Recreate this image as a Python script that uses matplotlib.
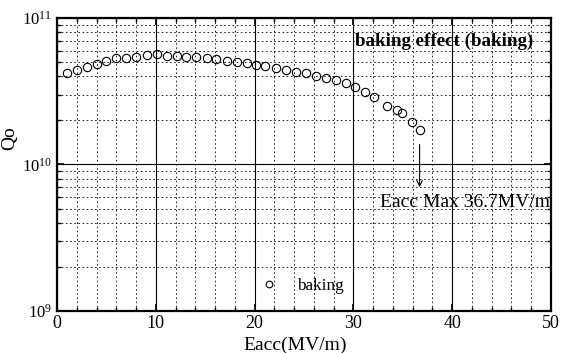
import matplotlib.pyplot as plt
from matplotlib.ticker import MultipleLocator, LogLocator, NullFormatter

plt.rcParams['font.family'] = ['Liberation Serif', 'DejaVu Serif']

eacc = [1.0, 2.0, 3.0, 4.0, 5.0, 6.0, 7.0, 8.0, 9.1, 10.1, 11.1, 12.1, 13.1, 14.1,
        15.15, 16.1, 17.2, 18.2, 19.2, 20.1, 21.1, 22.2, 23.2, 24.2, 25.2, 26.2,
        27.2, 28.2, 29.3, 30.2, 31.2, 32.1, 33.4, 34.4, 34.95, 35.9, 36.7]
q0 = [4.23e10, 4.40e10, 4.63e10, 4.88e10, 5.09e10, 5.31e10, 5.33e10, 5.40e10,
      5.59e10, 5.65e10, 5.53e10, 5.48e10, 5.45e10, 5.40e10,
      5.31e10, 5.22e10, 5.11e10, 5.03e10, 4.91e10, 4.80e10, 4.68e10, 4.54e10,
      4.44e10, 4.30e10, 4.19e10, 4.04e10, 3.87e10, 3.76e10, 3.58e10, 3.36e10,
      3.14e10, 2.90e10, 2.51e10, 2.36e10, 2.23e10, 1.94e10, 1.72e10]
eacc_max = 36.7
title = "baking effect (baking)"
series_label = "baking"

fig = plt.figure(figsize=(5.62, 3.53), dpi=100)
ax = fig.add_axes([0.1014, 0.119, 0.879, 0.830])

ax.plot(eacc, q0, 'o', mfc='none', mec='black', ms=6, mew=0.8, label=series_label)

ax.set_yscale('log')
ax.set_xlim(0, 50)
ax.set_ylim(1e9, 1e11)
ax.xaxis.set_major_locator(MultipleLocator(10))
ax.xaxis.set_minor_locator(MultipleLocator(2))
ax.yaxis.set_major_locator(LogLocator(base=10, numticks=5))
ax.yaxis.set_minor_locator(LogLocator(base=10, subs=range(2, 10), numticks=20))
ax.yaxis.set_minor_formatter(NullFormatter())

ax.grid(which='major', color='black', linestyle='-', linewidth=0.8)
ax.grid(which='minor', color='black', linestyle=(0, (2, 3)), linewidth=0.6)
ax.tick_params(which='both', direction='in', top=True, right=True)
ax.tick_params(axis='x', labelsize=13, pad=3)
ax.tick_params(axis='y', labelsize=12)
ax.tick_params(which='major', length=5, width=1.2)
ax.tick_params(which='minor', length=3, width=1.0)
for s in ax.spines.values():
    s.set_linewidth(1.6)

ax.set_xlabel("Eacc(MV/m)", fontsize=14)
ax.xaxis.set_label_coords(0.482, -0.088)
ax.set_ylabel("Qo", fontsize=14)
ax.yaxis.set_label_coords(-0.079, 0.59)

ax.text(0.965, 0.92, title, transform=ax.transAxes, ha='right', va='center',
        fontsize=13.7, fontweight='bold')

ax.annotate("", xy=(eacc_max, 6.7e9), xytext=(eacc_max, 1.43e10),
            arrowprops=dict(arrowstyle='->', color='black', lw=0.8))
ax.text(49.9, 5.46e9, f"Eacc Max {eacc_max}MV/m", ha='right', va='center',
        fontsize=14)

ax.legend(loc='lower left', bbox_to_anchor=(0.364, 0.005), frameon=False,
          fontsize=12.3, handletextpad=0.6, markerscale=0.8)

fig.savefig('out.png', dpi=100)
